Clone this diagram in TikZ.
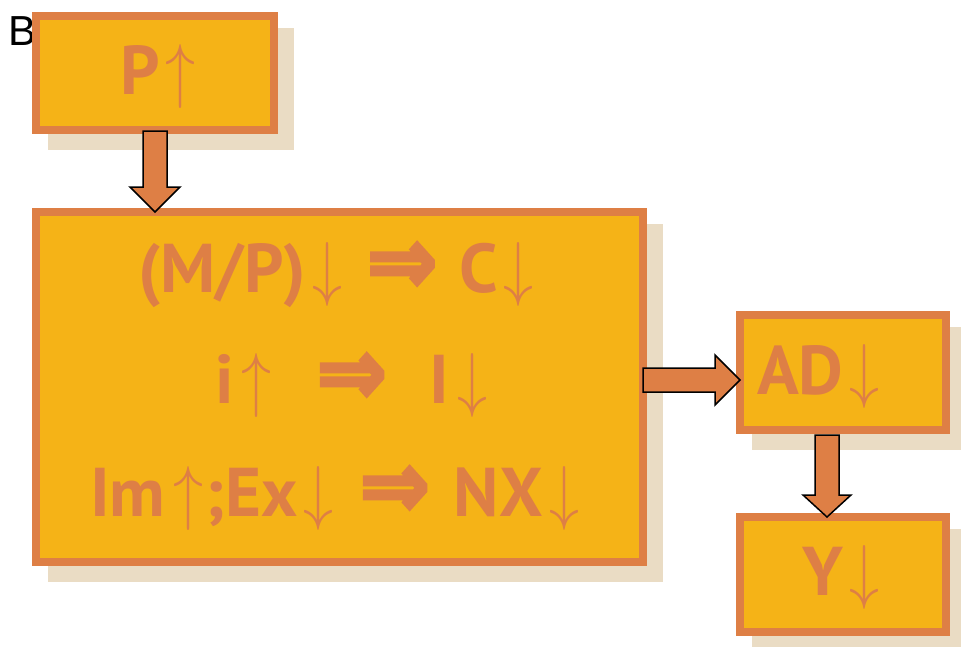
\documentclass[tikz,border=0pt]{standalone}
\usepackage{fontspec}
\setmainfont{PT Sans}
\newfontfamily\labelfont{Liberation Sans}
\newfontfamily\arrowfont[FakeBold=4]{DejaVu Sans}
\usetikzlibrary{calc}
\usetikzlibrary{backgrounds}
\definecolor{boxfill}{HTML}{F5B317}
\definecolor{boxline}{HTML}{DE7F45}
\definecolor{boxshade}{HTML}{EADCC4}
\newcommand{\fatto}{\raisebox{-1pt}{\scalebox{1.35}[1.5]{\fontsize{62}{62}\arrowfont ⇒}}}
\newcommand{\up}{\scalebox{6}[7.2]{\fontsize{10}{12}\selectfont$\uparrow$}}
\newcommand{\dn}{\scalebox{6}[7.2]{\fontsize{10}{12}\selectfont$\downarrow$}}

\begin{document}
\begin{tikzpicture}[x=1pt, y=-1pt,
  box/.style={draw=boxline, fill=boxfill, line width=8pt, inner sep=0pt},
  blockarrow/.style={draw=black, fill=boxline, line width=1.5pt, line join=miter},
  txt/.style={text=boxline, font=\fontsize{69}{70}\selectfont\bfseries, anchor=base west, inner sep=0pt}]
        \useasboundingbox (0,0) rectangle (961,646);
        \node[font=\labelfont\fontsize{42}{42}\selectfont, anchor=base west, inner sep=0pt] (title) at (8,45) {B};
        % boxes
        \node[box, minimum width=238pt, minimum height=114pt] (pbox) at (155,73) {};
        \node[box, minimum width=607pt, minimum height=350pt] (mid) at (339.5,387) {};
        \node[box, minimum width=206pt, minimum height=115pt] (ad) at (843,372.5) {};
        \node[box, minimum width=206pt, minimum height=115pt] (yb) at (843,574.5) {};
        \begin{scope}[on background layer]
          \foreach \n in {pbox,mid,ad,yb}
            \fill[boxshade] ($(\n.north west)+(16,16)$) rectangle ($(\n.south east)+(16,16)$);
        \end{scope}
        % block arrows
        \draw[blockarrow] ($(pbox.south)+(-12,-3)$) -- ++(0,56) -- ++(-13,0) -- ($(pbox.south |- mid.north)+(0,4)$) -- ($(pbox.south)+(25,53)$) -- ++(-13,0) -- ++(0,-56) -- cycle;
        \draw[blockarrow] ($(mid.east)+(-4,-19)$) -- ++(72,0) -- ++(0,-13) -- ($(mid.east)+(93,-7)$) -- ($(mid.east)+(68,18)$) -- ++(0,-13) -- ++(-72,0) -- cycle;
        \draw[blockarrow] ($(ad.south)+(-28,1)$) -- ++(0,60) -- ++(-12,0) -- ($(yb.north)+(-16,4)$) -- ($(ad.south)+(8,61)$) -- ++(-12,0) -- ++(0,-60) -- cycle;
        % texts
        \node[txt] (ptxt) at (120,94) {P\hspace{6pt}\up};
        \node[txt] (row1) at (138,292) {(M/P)\hspace{6pt}\dn\hspace{25pt}\fatto\hspace{22pt}C\hspace{6pt}\dn};
        \node[txt] (row2) at (215,403) {i\hspace{8pt}\up\hspace{45pt}\fatto\hspace{43pt}I\hspace{8pt}\dn};
        \node[txt] (row3) at (90,516) {Im\hspace{8pt}\up\hspace{2pt};Ex\hspace{6pt}\dn\hspace{26pt}\fatto\hspace{24pt}NX\hspace{7pt}\dn};
        \node[txt] (adtxt) at (757,394) {AD\hspace{6pt}\dn};
        \node[txt] (ytxt) at (802,595) {Y\hspace{6pt}\dn};
      \end{tikzpicture}
\end{document}
